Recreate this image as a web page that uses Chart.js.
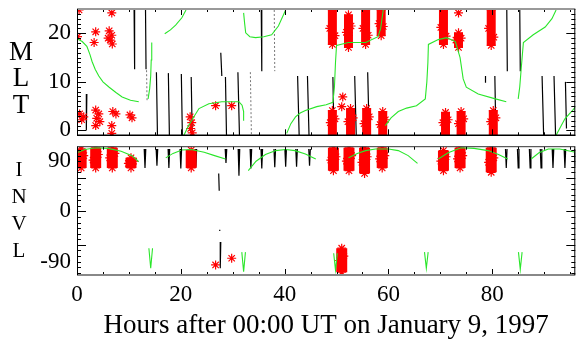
<!DOCTYPE html>
<html>
<head>
<meta charset="utf-8">
<script src="https://cdn.jsdelivr.net/npm/chart.js@4"></script>
<style>
  body { margin: 0; background: #fff; }
  #wrap { position: relative; width: 581px; height: 341px; }
  canvas { position: absolute; left: 0; }
  #mltChart { top: 0; }
  #invlChart { top: 141px; }
</style>
</head>
<body>
<div id="wrap">
  <canvas id="mltChart" width="581" height="141"></canvas>
  <canvas id="invlChart" width="581" height="200"></canvas>
</div>
<script>
// axis labels
const xTickLabels = [0, 20, 40, 60, 80];
const mltTickLabels = [0, 10, 20];
const invlTickLabels = [-90, 0, 90];
const mltLetters = ['M', 'L', 'T'];
const invlLetters = ['I', 'N', 'V', 'L'];
const xTitle = 'Hours after 00:00 UT on January 9, 1997';

// MLT panel: green trace [hour, MLT], null = break
const mltGreen = [
  [0, 18.9], [1.0, 18.3], [1.9, 17.3], [2.5, 15.6], [2.9, 14.2], [3.5, 12.6], [4.2, 11.2], [5.0, 10.0],
  [6.2, 8.9], [7.5, 7.8], [8.7, 6.9], [10.3, 6.2], [11.9, 5.9], null,
  [13.7, 6.5], [14.0, 8.6], [14.2, 11.2], [14.3, 14.5], [14.4, 18.1], null,
  [16.9, 19.9], [18.0, 20.7], [19.0, 21.7], [20.2, 23.2], [21.0, 24.8], null,
  [20.6, -1.0], [21.4, 0.8], [22.4, 2.6], [23.5, 4.5], [25.4, 5.5], [27.9, 5.9], [31.2, 5.9], [31.8, 5.2],
  [32.1, 3.9], [32.1, 2.0], null,
  [32.1, 24.2], [32.3, 22.0], [32.5, 20.1], [33.3, 19.3], [34.4, 19.1], [36.0, 19.3], [37.5, 19.7],
  [38.8, 21.5], [40.2, 24.8], null,
  [40.4, -0.6], [41.2, 1.4], [42.1, 2.8], [43.0, 3.6], [44.0, 4.1], [46.2, 4.9], [48.0, 5.3], [49.3, 5.8],
  [49.6, 9.0], [49.8, 14.0], [50.0, 17.5], [52.3, 18.1], [55.6, 18.1], [58.0, 19.3], [58.5, 21.0], [59.0, 24.8], null,
  [59.4, 1.0], [60.5, 2.6], [61.9, 3.9], [63.5, 4.6], [65.4, 5.1], [67.1, 6.5], [67.4, 10.0], [67.6, 14.0],
  [67.7, 17.7], [69.6, 18.7], [71.2, 19.1], [72.9, 18.3], [73.8, 15.0], [74.4, 10.6], [75.0, 8.9],
  [77.3, 7.5], [80.6, 6.5], [82.7, 5.9], null,
  [85.0, 6.5], [85.3, 9.0], [85.6, 13.0], [86.0, 18.1], [87.9, 19.7], [90.2, 21.3], [91.5, 23.0], [92.3, 24.8], null,
  [92.3, -1.0], [93.2, 0.8], [94.0, 2.4], [95.2, 3.8], [96.0, 4.8]
];

// MLT panel: black sweeps [hour1, MLT1, hour2, MLT2]
const mltBlack = [
  [1.9, 7.5, 1.8, 0.0], [11.0, 24.8, 11.1, 12.6], [13.2, 24.8, 13.3, 12.6], [15.3, 12.0, 15.5, -1.0],
  [17.6, 11.8, 17.8, -1.0], [20.1, 11.6, 20.3, -1.0], [22.0, 11.0, 22.2, -1.0], [27.7, 16.0, 27.9, 11.2],
  [28.6, 11.0, 28.8, -1.0], [31.0, 12.0, 31.3, -1.0], [42.5, 11.2, 42.8, -1.0], [44.4, 11.2, 44.7, -1.0],
  [49.3, 11.0, 49.5, -1.0], [53.5, 11.2, 53.8, -1.0], [56.0, 12.0, 56.3, -1.0], [78.7, 11.2, 78.7, 9.8],
  [80.5, 11.2, 80.7, -1.0], [82.8, 24.8, 82.9, 12.2], [85.3, 24.8, 85.4, 12.2], [89.6, 11.2, 89.9, -1.0],
  [91.9, 11.2, 92.2, -1.0], [94.1, 10.0, 94.3, 0.4], [35.5, 24.8, 35.6, 12.2]
];
// fainter dotted sweeps
const mltGray = [
  [33.4, 12.0, 33.6, -1.0], [38.0, 24.8, 38.1, 12.2], [13.4, 12.4, 13.5, 6.0]
];

// MLT panel: dense red event bands [hour, low, high]
const mltRedBars = [
  [49.2, 17.7, 24.8], [52.3, 17.1, 23.8], [55.6, 17.7, 24.8], [58.6, 19.5, 24.8],
  [70.6, 17.7, 24.8], [73.5, 17.1, 20.1], [79.8, 17.5, 24.8],
  [49.2, -0.8, 4.1], [52.7, -0.8, 4.5], [55.8, -0.8, 4.5], [58.9, -0.8, 3.9],
  [71.0, -0.8, 3.7], [74.0, -0.8, 3.9], [80.2, -0.8, 4.1]
];

// MLT panel: single red events [hour, MLT]
const mltRedStars = [
  [0.4, 24.8], [0.1, 19.3], [3.6, 20.3], [3.3, 18.1], [6.7, 24.2],
  [6.2, 20.5], [6.7, 19.6], [6.4, 18.6], [6.8, 17.8], [6.0, 19.0],
  [0.5, 3.4], [1.3, 2.8], [0.9, 2.2],
  [3.6, 4.2], [4.2, 3.4], [3.8, 2.5], [4.4, 1.8], [3.6, 1.0],
  [6.9, 3.9], [7.5, 3.4], [6.7, 1.0], [6.7, -0.6],
  [10.2, 3.2], [10.6, 2.6],
  [21.8, 2.8], [22.1, 1.6], [21.9, 0.4], [22.2, -0.5],
  [26.7, 5.1], [29.8, 5.1], [51.2, 6.9], [51.0, 4.9], [73.5, 24.2],
  [48.7, 21.0], [49.7, 19.5], [51.9, 20.2], [52.8, 21.5], [55.1, 21.0], [56.1, 19.6], [58.2, 22.0], [59.0, 21.4],
  [70.1, 21.2], [71.1, 19.4], [79.3, 21.0], [80.3, 19.2], [73.0, 18.6], [74.0, 19.0],
  [48.8, 1.6], [49.7, 2.4], [52.2, 1.8], [53.2, 2.6], [55.3, 1.4], [56.3, 2.8], [58.4, 1.2], [59.4, 2.2],
  [70.5, 1.6], [71.5, 2.2], [73.5, 1.4], [74.5, 2.4], [79.7, 1.8], [80.7, 2.6]
];

// INVL panel: green arcs [hour, INVL]
const invlGreen = [
  [0, 105], [1.5, 111], [3.6, 114], [6.0, 113], [8.5, 108], [10.6, 100], [11.9, 89], null,
  [17.1, 96], [18.5, 104], [20.2, 110], [22.0, 111], [24.5, 106], [26.5, 100], [28.6, 94], null,
  [33.0, 73], [34.5, 90], [36.3, 102], [38.3, 109], [40.2, 111], [42.0, 109], [44.0, 103], [46.0, 94], null,
  [52.3, 96], [54.0, 104], [55.6, 109], [57.5, 112], [60.0, 112], [61.9, 109], [63.8, 100], [65.6, 86], null,
  [69.6, 94], [71.5, 105], [74.0, 114], [76.5, 113], [79.2, 109], [81.2, 102], [83.0, 94], null,
  [87.5, 94], [89.0, 105], [90.8, 112], [93.0, 112], [96.0, 106]
];

// INVL panel: southern green dips [hour, top, bottom]
const invlGreenDips = [
  [14.2, -66, -102], [32.1, -73, -108], [49.8, -75, -105], [67.3, -73, -102], [85.4, -73, -104]
];

// INVL panel: black spikes [hour, top, bottom]
const invlSpikes = [
  [13.1, 112, 78], [15.4, 112, 82], [17.7, 112, 78], [20.0, 112, 77], [22.9, 112, 80],
  [28.7, 112, 87], [31.2, 112, 64], [33.5, 112, 77], [35.6, 112, 77], [38.1, 112, 79],
  [40.2, 112, 80], [42.3, 112, 80], [44.8, 112, 82],
  [82.7, 112, 78], [85.0, 112, 78], [87.3, 112, 78], [89.4, 112, 78], [91.7, 112, 78],
  [94.0, 112, 78], [96.0, 112, 80]
];
const invlBlack = [
  [27.3, 68, 27.4, 37], [27.7, -55, 27.6, -102], [27.5, -33, 27.5, -35]
];

// INVL panel: dense red event bands [hour, low, high]
const invlRedBars = [
  [0.8, 78, 112], [3.6, 78, 114], [6.8, 78, 114], [10.4, 78, 96], [22.0, 78, 110],
  [49.4, 73, 114], [52.4, 73, 114], [55.4, 68, 114], [58.8, 78, 114],
  [70.6, 73, 109], [73.8, 78, 114], [79.8, 70, 114],
  [51.0, -109, -66]
];
const invlRedStars = [
  [26.7, -96], [29.8, -84],
  [0.3, 95], [1.3, 100], [3.1, 92], [4.1, 102], [6.3, 96], [7.3, 104], [9.9, 86], [10.9, 90],
  [48.9, 92], [49.9, 98], [51.9, 90], [52.9, 100], [54.9, 88], [55.9, 98], [58.3, 94], [59.3, 100],
  [70.1, 90], [71.1, 98], [73.3, 94], [74.3, 100], [79.3, 88], [80.3, 96], [50.6, -88], [51.4, -80]
];

const GREEN = '#2ae62a';
const RED = '#ff0000';
const serif = "'Liberation Serif', 'DejaVu Serif', serif";
const GAP = { x: null, y: null };

function points(list) {
  return list.map(p => p ? { x: p[0], y: p[1] } : GAP);
}
function segments(list) {
  const out = [];
  list.forEach(s => out.push({ x: s[0], y: s[1] }, { x: s[2], y: s[3] }, GAP));
  return out;
}
function bands(list) {
  const out = [];
  list.forEach(b => out.push({ x: b[0], y: b[1] }, { x: b[0], y: b[2] }, GAP));
  return out;
}
function bandEnds(list) {
  const out = [];
  list.forEach(b => out.push({ x: b[0], y: b[1] }, { x: b[0], y: b[2] }));
  return out;
}
function spikes(list, half) {
  const out = [];
  list.forEach(s => out.push({ x: s[0] - half, y: s[1] }, { x: s[0], y: s[2] }, { x: s[0] + half, y: s[1] }, GAP));
  return out;
}

// IDL-style frame with inward ticks and stacked axis letters
const idlFrame = {
  id: 'idlFrame',
  afterDraw(chart, args, opts) {
    const { ctx, chartArea: a } = chart;
    const xs = chart.scales.x, ys = chart.scales.y;
    ctx.save();
    ctx.lineWidth = 1;
    ctx.strokeStyle = '#000';
    ctx.beginPath();
    for (let h = 0; h <= 96; h += 5) {
      const px = Math.round(xs.getPixelForValue(h)) + 0.5;
      const len = h % 20 === 0 ? 6 : 3;
      ctx.moveTo(px, a.bottom); ctx.lineTo(px, a.bottom - len);
      ctx.moveTo(px, a.top); ctx.lineTo(px, a.top + len);
    }
    for (let v = opts.yFrom; v <= opts.yTo; v += opts.yStep) {
      const py = Math.round(ys.getPixelForValue(v)) + 0.5;
      const len = opts.yMajor.includes(v) ? 9 : 4;
      ctx.moveTo(a.left, py); ctx.lineTo(a.left + len, py);
      ctx.moveTo(a.right, py); ctx.lineTo(a.right - len, py);
    }
    ctx.stroke();

    const edge = (x1, y1, x2, y2, color, w) => {
      ctx.beginPath();
      ctx.strokeStyle = color;
      ctx.lineWidth = w;
      ctx.moveTo(x1, y1); ctx.lineTo(x2, y2);
      ctx.stroke();
    };
    edge(a.left, a.top, a.right, a.top, opts.topColor, opts.topWidth);
    edge(a.left, a.bottom, a.right, a.bottom, opts.bottomColor, opts.bottomWidth);
    edge(a.left + 0.5, a.top, a.left + 0.5, a.bottom, '#000', 1);
    edge(a.right - 0.5, a.top, a.right - 0.5, a.bottom, '#000', 1);

    ctx.fillStyle = '#000';
    ctx.font = opts.letterSize + 'px ' + serif;
    ctx.textAlign = 'center';
    ctx.textBaseline = 'middle';
    opts.letters.forEach((c, i) => ctx.fillText(c, opts.letterX, opts.letterY + i * opts.letterStep));
    ctx.restore();
  }
};

function fixY(width) {
  return s => { s.width = width; s.paddingTop = 0; s.paddingBottom = 0; };
}

function panel(canvasId, cfg) {
  return new Chart(document.getElementById(canvasId), {
    type: 'scatter',
    data: {
      datasets: [
        { data: points(cfg.green), showLine: true, borderColor: GREEN, borderWidth: 1.1, pointRadius: 0, spanGaps: false },
        { data: spikes(cfg.dips, 0.35), showLine: true, borderColor: GREEN, borderWidth: 1.1, pointRadius: 0, spanGaps: false },
        { data: points(cfg.stars).concat(bandEnds(cfg.bars)), pointStyle: 'star', pointRadius: 4.5,
          borderColor: RED, backgroundColor: RED, borderWidth: 1.2 },
        { data: bands(cfg.bars), showLine: true, borderColor: RED, borderWidth: cfg.barWidth,
          borderCapStyle: 'butt', pointRadius: 0, spanGaps: false },
        { data: segments(cfg.black).concat(spikes(cfg.spikes, 0.15)), showLine: true, borderColor: '#000',
          borderWidth: 1.2, pointRadius: 0, spanGaps: false },
        { data: segments(cfg.gray), showLine: true, borderColor: '#777', borderWidth: 1,
          borderDash: [2, 2], pointRadius: 0, spanGaps: false }
      ]
    },
    options: {
      responsive: false,
      animation: false,
      events: [],
      layout: { padding: cfg.padding },
      plugins: { legend: { display: false }, tooltip: { enabled: false }, idlFrame: cfg.frame },
      scales: {
        x: cfg.x,
        y: {
          type: 'linear',
          min: cfg.yMin,
          max: cfg.yMax,
          afterBuildTicks: s => { s.ticks = cfg.yTicks.map(v => ({ value: v })); },
          ticks: { color: '#000', font: { family: serif, size: 23 }, padding: 6 },
          grid: { display: false, drawTicks: false },
          border: { display: false },
          afterFit: fixY(77)
        }
      }
    },
    plugins: [idlFrame]
  });
}

panel('mltChart', {
  green: mltGreen, dips: [], stars: mltRedStars, bars: mltRedBars, barWidth: 9,
  black: mltBlack, gray: mltGray, spikes: [],
  yMin: -1, yMax: 25, yTicks: mltTickLabels,
  padding: { top: 9, right: 4, left: 0, bottom: 0 },
  x: {
    type: 'linear', min: 0, max: 96,
    ticks: { display: false },
    grid: { display: false, drawTicks: false },
    border: { display: false },
    afterFit: s => { s.height = 4; s.paddingLeft = 0; s.paddingRight = 0; }
  },
  frame: {
    yFrom: -1, yTo: 25, yStep: 1, yMajor: [0, 10, 20],
    topColor: '#999', topWidth: 2, bottomColor: '#000', bottomWidth: 1.5,
    letters: mltLetters, letterSize: 27, letterX: 21, letterY: 53, letterStep: 26.3
  }
});

panel('invlChart', {
  green: invlGreen, dips: invlGreenDips, stars: invlRedStars, bars: invlRedBars, barWidth: 11,
  black: invlBlack, gray: [], spikes: invlSpikes,
  yMin: -114, yMax: 116, yTicks: invlTickLabels,
  padding: { top: 5, right: 4, left: 0, bottom: 0 },
  x: {
    type: 'linear', min: 0, max: 96,
    afterBuildTicks: s => { s.ticks = xTickLabels.map(v => ({ value: v })); },
    ticks: { color: '#000', font: { family: serif, size: 23 }, padding: 6, maxRotation: 0, autoSkip: false },
    grid: { display: false, drawTicks: false },
    border: { display: false },
    title: { display: true, text: xTitle, color: '#000', font: { family: serif, size: 27, lineHeight: 1 }, padding: { top: 0, bottom: 1.5 } },
    afterFit: s => { s.height = 66; s.paddingLeft = 0; s.paddingRight = 0; }
  },
  frame: {
    yFrom: -110, yTo: 110, yStep: 10, yMajor: [-60, 0, 60],
    topColor: '#333', topWidth: 1, bottomColor: '#888', bottomWidth: 2,
    letters: invlLetters, letterSize: 21, letterX: 19, letterY: 29, letterStep: 27.2
  }
});
</script>
</body>
</html>
